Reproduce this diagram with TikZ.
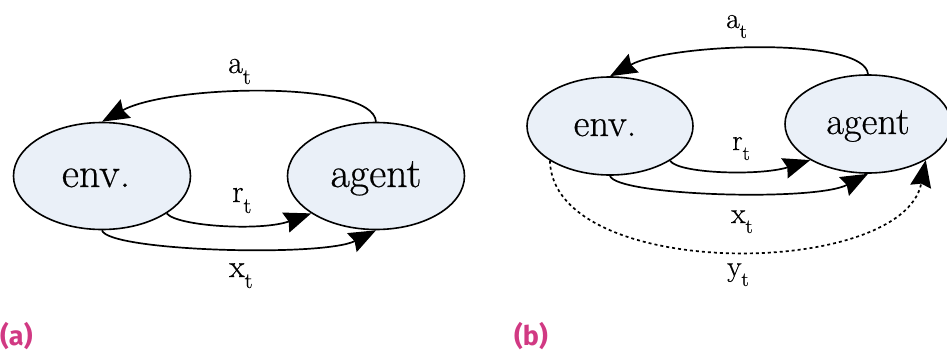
\documentclass[tikz,border=0pt]{standalone}
\usepackage{fontspec}
\newfontfamily\tagfont{Fira Sans}
\newfontfamily\diafont{Latin Modern Roman}[FakeBold=0.5]
\usetikzlibrary{shapes.geometric,arrows.meta}
\definecolor{statefill}{RGB}{234,240,248}
\definecolor{tagpink}{RGB}{209,57,131}
% symbol with an upright subscript t: #1 symbol, #2 subscript size, #3 drop
\newcommand\stsub[3]{#1\raisebox{-#3}{\fontsize{#2}{#2}\selectfont t}}
\tikzset{
  statebox/.style={ellipse, draw, line width=1.6pt, fill=statefill,
    inner sep=0pt, text height=22pt, text depth=0pt},
  stateA/.style={statebox, minimum width=177pt, minimum height=107pt,
    font=\diafont\fontsize{42}{48}\selectfont},
  stateB/.style={statebox, minimum width=166pt, minimum height=98pt,
    text height=20pt, font=\diafont\fontsize{38.5}{44}\selectfont},
  flow/.style={line width=1.7pt, -{Stealth[length=27pt, width=21pt, inset=3pt]}},
  flowdot/.style={flow, dash pattern=on 3pt off 3pt},
  lblA/.style={anchor=base west, inner sep=0pt, font=\diafont\fontsize{32}{36}\selectfont},
  lblB/.style={anchor=base west, inner sep=0pt, font=\diafont\fontsize{29.5}{34}\selectfont},
  tag/.style={anchor=base west, inner sep=0pt, text=tagpink,
    font=\tagfont\bfseries\fontsize{27}{32}\selectfont}
}
\begin{document}
\begin{tikzpicture}[x=1pt, y=-1pt]
\useasboundingbox (0,0) rectangle (947,356);

% ---- panel (a): environment and agent ----
\node[stateA] (envA) at (102,176) {env.\kern12pt};
\node[stateA] (agentA) at (376,176) {agent};

\draw[flow] (agentA.north) .. controls +(-3,-42) and +(67,-37) .. (envA.north);
\draw[flow] (envA.-30) .. controls +(10,13) and +(-50,18) .. (agentA.-150);
\draw[flow] (envA.south) .. controls +(6,21) and +(-53,27) .. (agentA.south);

\node[lblA] (atA) at (228,73) {\stsub{a}{22}{11pt}};
\node[lblA] (rtA) at (232,202) {\stsub{r}{22}{11pt}};
\node[lblA] (xtA) at (229,277) {\stsub{x}{22}{11pt}};

\node[tag] (tagA) at (0,345) {(a)};

% ---- panel (b): with the extra observation y ----
\node[stateB] (envB) at (610,126) {env.\kern10pt};
\node[stateB] (agentB) at (868,124) {agent};

\draw[flow] (agentB.north) .. controls +(-3,-38) and +(60,-33) .. (envB.north);
\draw[flow] (envB.-30) .. controls +(8,13) and +(-50,16) .. (agentB.-148);
\draw[flow] (envB.south) .. controls +(6,20) and +(-53,28) .. (agentB.south);
\draw[flowdot] (envB.-150) .. controls +(3,121) and +(-23,119) .. (agentB.-32);

\node[lblB] (atB) at (726,28) {\stsub{a}{20}{10pt}};
\node[lblB] (rtB) at (732,150) {\stsub{r}{20}{10pt}};
\node[lblB] (xtB) at (731,223) {\stsub{x}{20}{10pt}};
\node[lblB] (ytB) at (727,276) {\stsub{y}{20}{10pt}};

\node[tag] (tagB) at (514,345) {(b)};
\end{tikzpicture}
\end{document}
